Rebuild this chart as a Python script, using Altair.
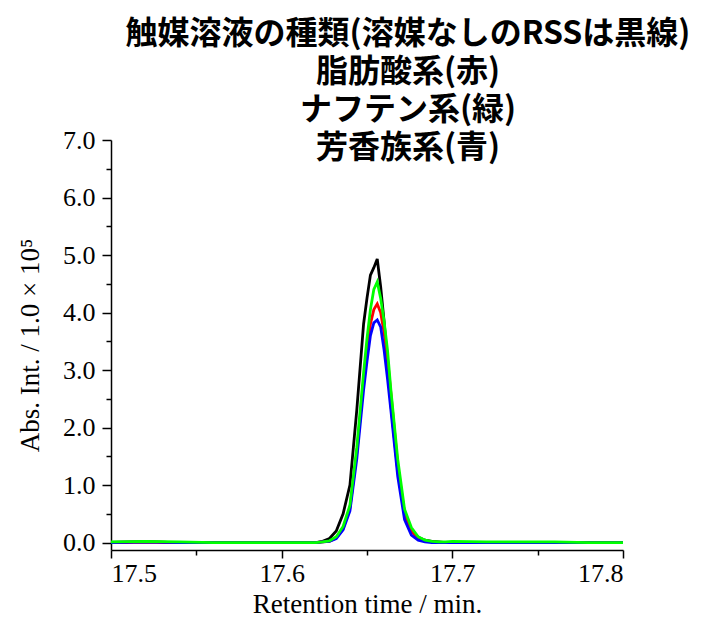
import altair as alt
import pandas as pd

# Retention time grid (min)
time = [17.50, 17.52, 17.54, 17.56, 17.58, 17.60, 17.61,
        17.620, 17.624, 17.628, 17.632, 17.636, 17.640, 17.644, 17.648,
        17.650, 17.652, 17.654, 17.656, 17.658, 17.660, 17.662, 17.664,
        17.668, 17.672, 17.676, 17.680, 17.684, 17.688, 17.692, 17.696,
        17.70, 17.72, 17.74, 17.76, 17.78, 17.80]

# Intensities (x 1.0e5)
black = [0.00, 0.01, 0.00, 0.00, 0.00, 0.00, 0.00,
         0.00, 0.02, 0.07, 0.20, 0.50, 1.00, 2.30, 3.80,
         4.25, 4.65, 4.78, 4.93, 4.45, 3.85, 3.15, 2.40,
         1.25, 0.52, 0.22, 0.09, 0.04, 0.02, 0.01, 0.00,
         0.00, 0.00, 0.00, 0.00, 0.00, 0.00]
red = [0.00, 0.01, 0.00, 0.00, 0.00, 0.00, 0.00,
       0.00, 0.01, 0.02, 0.08, 0.24, 0.60, 1.55, 2.80,
       3.35, 3.80, 4.05, 4.15, 4.00, 3.65, 3.20, 2.60,
       1.35, 0.50, 0.20, 0.07, 0.03, 0.01, 0.00, 0.00,
       0.00, 0.00, 0.00, 0.00, 0.00, 0.00]
blue = [0.00, 0.01, 0.00, 0.00, 0.00, 0.00, 0.00,
        0.00, 0.01, 0.02, 0.07, 0.22, 0.55, 1.45, 2.65,
        3.15, 3.60, 3.82, 3.87, 3.75, 3.35, 2.85, 2.30,
        1.15, 0.40, 0.13, 0.04, 0.01, 0.00, 0.00, 0.00,
        0.00, 0.00, 0.00, 0.00, 0.00, 0.00]
green = [0.01, 0.02, 0.01, 0.00, 0.00, 0.00, 0.00,
         0.00, 0.01, 0.03, 0.10, 0.28, 0.65, 1.65, 2.95,
         3.55, 4.05, 4.40, 4.53, 4.25, 3.85, 3.35, 2.65,
         1.45, 0.58, 0.26, 0.10, 0.04, 0.02, 0.01, 0.01,
         0.02, 0.01, 0.01, 0.01, 0.00, 0.00]

series_names = ["RSS", "脂肪酸系", "芳香族系", "ナフテン系"]
series_values = [black, red, blue, green]
series_colors = ["#000000", "#FF0000", "#0000FF", "#00FF00"]

x_major = [17.5, 17.6, 17.7, 17.8]
x_minor = [17.55, 17.65, 17.75]
y_major = [0, 1, 2, 3, 4, 5, 6, 7]
y_minor = [0.5, 1.5, 2.5, 3.5, 4.5, 5.5, 6.5]

title_lines = ["触媒溶液の種類(溶媒なしのRSSは黒線)", "脂肪酸系(赤)", "ナフテン系(緑)", "芳香族系(青)"]

rows = []
for order, (name, vals) in enumerate(zip(series_names, series_values)):
    for t, v in zip(time, vals):
        rows.append({"time": t, "value": v, "series": name, "order": order})
df = pd.DataFrame(rows)

SERIF = "Liberation Serif"
x_scale = alt.Scale(domain=[17.5, 17.8], nice=False, zero=False)
y_scale = alt.Scale(domain=[-0.13, 7.0], nice=False, zero=False)

common_axis = dict(grid=False, domainColor="black", tickColor="black",
                   domainWidth=1.5, tickWidth=1.5)

lines = alt.Chart(df).mark_line(strokeWidth=2.8, clip=True).encode(
    x=alt.X("time:Q", scale=x_scale,
            axis=alt.Axis(values=x_major, format=".1f", orient="bottom",
                          title="Retention time / min.", titleFont=SERIF,
                          titleFontSize=27, titleFontWeight="normal",
                          titlePadding=5, labelFont=SERIF, labelFontSize=26,
                          labelColor="black", titleColor="black",
                          tickSize=8, labelPadding=2, **common_axis)),
    y=alt.Y("value:Q", scale=y_scale,
            axis=alt.Axis(values=y_major, format=".1f", orient="left",
                          title="Abs. Int. / 1.0 × 10⁵", titleFont=SERIF,
                          titleFontSize=27, titleFontWeight="normal",
                          titlePadding=18, labelFont=SERIF, labelFontSize=26,
                          labelColor="black", titleColor="black",
                          tickSize=9, labelPadding=7, **common_axis)),
    color=alt.Color("series:N", scale=alt.Scale(domain=series_names, range=series_colors),
                    legend=None),
    order=alt.Order("order:Q"),
)

minor = alt.Chart(df).mark_line(strokeOpacity=0).encode(
    x=alt.X("time:Q", scale=x_scale,
            axis=alt.Axis(values=x_minor, labels=False, title=None, orient="bottom",
                          domain=False, tickSize=5, grid=False,
                          tickColor="black", tickWidth=1.5)),
    y=alt.Y("value:Q", scale=y_scale,
            axis=alt.Axis(values=y_minor, labels=False, title=None, orient="left",
                          domain=False, tickSize=5, grid=False,
                          tickColor="black", tickWidth=1.5)),
    detail="series:N",
)

chart = alt.layer(lines, minor).resolve_axis(x="independent", y="independent").properties(
    width=512,
    height=410,
    padding={"left": 8, "top": 10, "right": 5, "bottom": 2},
    title=alt.TitleParams(text=title_lines, font="Noto Sans CJK JP", fontWeight="bold",
                          fontSize=32, lineHeight=38, anchor="middle", dx=41,
                          offset=-38, color="black"),
).configure_view(stroke=None)

chart.save("out.html", embed_options={"renderer": "svg", "actions": False})
